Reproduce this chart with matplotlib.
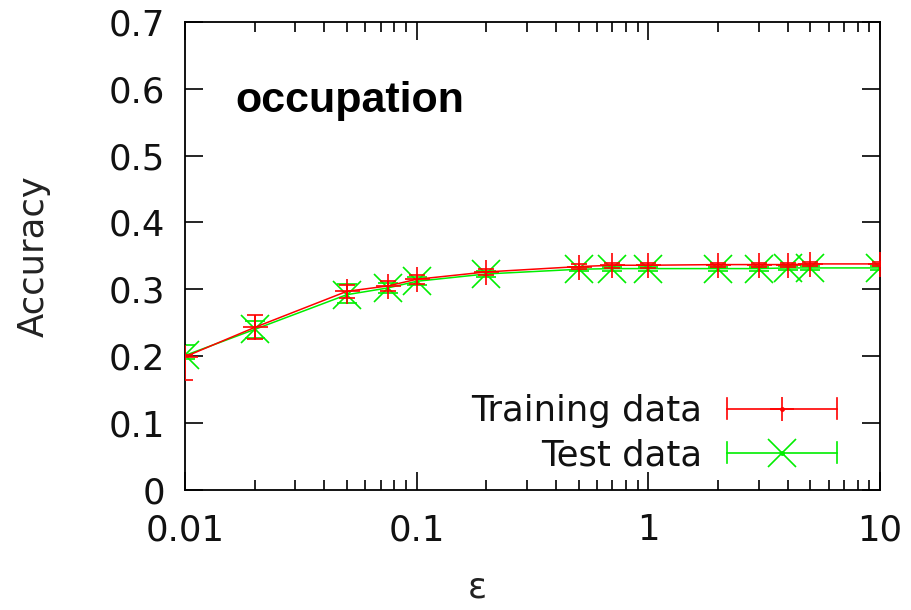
import numpy as np
import matplotlib
matplotlib.use("Agg")
import matplotlib.pyplot as plt
from matplotlib.lines import Line2D
from matplotlib.legend_handler import HandlerBase
from matplotlib.ticker import LogLocator, FixedLocator, NullFormatter

# data
eps = [0.01, 0.02, 0.05, 0.075, 0.1, 0.2, 0.5, 0.7, 1, 2, 3, 4, 5, 10]
train_acc = [0.199, 0.243, 0.297, 0.305, 0.315, 0.326, 0.334, 0.336, 0.336, 0.337, 0.337, 0.337, 0.338, 0.338]
train_lo = [0.034, 0.018, 0.010, 0.008, 0.007, 0.005, 0.004, 0.004, 0.004, 0.003, 0.003, 0.003, 0.003, 0.003]
train_hi = [0.002, 0.018, 0.010, 0.007, 0.007, 0.005, 0.004, 0.004, 0.004, 0.003, 0.003, 0.003, 0.003, 0.003]
test_acc = [0.201, 0.240, 0.292, 0.302, 0.312, 0.323, 0.330, 0.331, 0.331, 0.331, 0.331, 0.332, 0.332, 0.332]
test_lo = [0.005, 0.013, 0.012, 0.008, 0.006, 0.004, 0.003, 0.003, 0.003, 0.003, 0.003, 0.003, 0.003, 0.003]
test_hi = [0.015, 0.013, 0.016, 0.008, 0.006, 0.004, 0.003, 0.003, 0.003, 0.003, 0.003, 0.003, 0.003, 0.003]
yticks = [0, 0.1, 0.2, 0.3, 0.4, 0.5, 0.6, 0.7]
xticks = [0.01, 0.1, 1, 10]
xtick_labels = ["0.01", "0.1", "1", "10"]

RED = "#ff0000"
GREEN = "#00ee00"
FS = 25.5


class HandlerErrLine(HandlerBase):
    """gnuplot style legend sample: |----marker----|"""
    def create_artists(self, legend, orig_handle, xdescent, ydescent,
                       width, height, fontsize, trans):
        y = height / 2 - ydescent
        x0, x1 = -xdescent, width - xdescent
        c = orig_handle.get_color()
        cap = height * 0.42
        line = Line2D([x0, x1], [y, y], color=c, lw=1.2)
        caps = Line2D([x0, x0, np.nan, x1, x1], [y - cap, y + cap, np.nan, y - cap, y + cap],
                      color=c, lw=1.2)
        mk = Line2D([(x0 + x1) / 2], [y], marker=orig_handle.get_marker(),
                    markersize=orig_handle.get_markersize(), mew=orig_handle.get_markeredgewidth(),
                    color=c, ls="none")
        dot = Line2D([(x0 + x1) / 2], [y], marker="o", markersize=2.5, color=c, ls="none")
        arts = [line, caps, mk, dot]
        for a in arts:
            a.set_transform(trans)
        return arts


fig = plt.figure(figsize=(9.11, 6.10), dpi=100)
ax = fig.add_axes([0.203, 0.197, 0.763, 0.767])

ax.errorbar(eps, train_acc, yerr=[train_lo, train_hi], color=RED, lw=1.1,
            marker="+", markersize=18, mew=1.2, elinewidth=1.2, capsize=6, capthick=1.1,
            zorder=3)
ax.errorbar(eps, test_acc, yerr=[test_lo, test_hi], color=GREEN, lw=1.1,
            marker="x", markersize=20, mew=1.2, elinewidth=1.2, capsize=7, capthick=1.1,
            zorder=2)

ax.set_xscale("log")
ax.set_xlim(0.01, 10)
ax.set_ylim(0, 0.7)
ax.set_yticks(yticks)
ax.set_yticklabels(["0" if t == 0 else f"{t:.1f}" for t in yticks])
ax.xaxis.set_major_locator(FixedLocator(xticks))
ax.set_xticklabels(xtick_labels)
ax.xaxis.set_minor_locator(LogLocator(base=10, subs=np.arange(2, 10)))
ax.xaxis.set_minor_formatter(NullFormatter())

ax.tick_params(which="both", direction="in", top=True, right=True, labelsize=FS,
               width=1.2, color="black", labelcolor="#111111")
ax.tick_params(which="major", length=13)
ax.tick_params(axis="y", which="major", pad=14)
ax.tick_params(axis="x", which="major", pad=17)
ax.tick_params(which="minor", length=7)
for s in ax.spines.values():
    s.set_linewidth(1.3)

ax.set_ylabel("Accuracy", fontsize=FS, labelpad=42, color="#222222")
ax.set_xlabel("ε", fontsize=FS, color="#222222")
ax.xaxis.set_label_coords(0.42, -0.172)

ax.text(0.073, 0.83, "occupation", transform=ax.transAxes, fontsize=31,
        fontweight="bold", family="Liberation Sans", va="center", ha="left")

h_train = Line2D([], [], color=RED, marker="+", markersize=17, mew=1.2)
h_test = Line2D([], [], color=GREEN, marker="x", markersize=20, mew=1.2)
ax.legend([h_train, h_test], ["Training data", "Test data"],
          handler_map={Line2D: HandlerErrLine()}, loc="lower right",
          bbox_to_anchor=(0.963, 0.0), frameon=False, markerfirst=False,
          fontsize=FS, handlelength=3.1, handletextpad=0.7, labelspacing=0.28,
          borderpad=0, labelcolor="#111111")

fig.savefig("out.png", dpi=100)
